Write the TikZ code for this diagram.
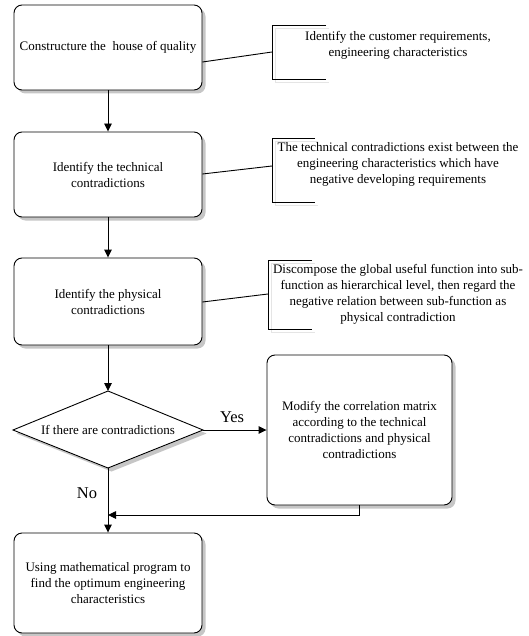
\documentclass[tikz,border=0pt]{standalone}
\usepackage{fontspec}
\setmainfont{Liberation Serif}
\usetikzlibrary{arrows.meta,shadows}
\begin{document}
\begin{tikzpicture}[x=1pt,y=-1pt,
  line width=0.9pt,
  txt/.style={font=\fontsize{13}{16}\selectfont, align=center, inner sep=0pt},
  lbl/.style={font=\fontsize{16.5}{19}\selectfont, inner sep=0pt},
  procbox/.style={draw, rounded corners=8pt, fill=white, minimum width=188pt, inner sep=0pt,
     drop shadow={shadow xshift=3.5pt, shadow yshift=-3.5pt, fill=gray!45, opacity=1},
     font=\fontsize{13}{16}\selectfont, align=center},
  arr/.style={-{Triangle[length=8pt,width=7.5pt]}},
  brk/.style={line width=0.9pt},
  brkshadow/.style={draw=gray!20, line width=0.9pt}
]
\useasboundingbox (0,0) rectangle (528,636);

% process boxes
\node[procbox, minimum height=85pt] (b1) at (108,47.5) {Constructure the\ \ house of quality};
\node[procbox, minimum height=85pt] (b2) at (108,174.5) {Identify the technical\\contradictions};
\node[procbox, minimum height=87pt] (b3) at (108,301.5) {Identify the physical\\contradictions};
\node[procbox, minimum width=185pt, minimum height=150pt] (b4) at (359.5,430) {Modify the correlation matrix\\according to the technical\\contradictions and physical\\contradictions};
\node[procbox, minimum height=100pt] (b5) at (108,583) {Using mathematical program to\\find the optimum engineering\\characteristics};

% decision diamond
\coordinate (dtop) at (108,391);
\coordinate (dright) at (203,430);
\coordinate (dbot) at (108,468);
\coordinate (dleft) at (13,430);
\fill[gray!45] ([xshift=3.5pt,yshift=-3.5pt]dtop) -- ([xshift=3.5pt,yshift=-3.5pt]dright) -- ([xshift=3.5pt,yshift=-3.5pt]dbot) -- ([xshift=3.5pt,yshift=-3.5pt]dleft) -- cycle;
\draw[fill=white] (dtop) -- (dright) -- (dbot) -- (dleft) -- cycle;
\node[txt] (d) at (108,430) {If there are contradictions};

% annotation brackets
\coordinate (a1tr) at (326,25); \coordinate (a1tl) at (272,25);
\coordinate (a1bl) at (272,79); \coordinate (a1br) at (326,79);
\coordinate (a1m) at (272,52);
\draw[brkshadow] ([xshift=3pt,yshift=-3pt]a1tr) -- ([xshift=3pt,yshift=-3pt]a1tl) -- ([xshift=3pt,yshift=-3pt]a1bl) -- ([xshift=3pt,yshift=-3pt]a1br);
\draw[brk] (a1tr) -- (a1tl) -- (a1bl) -- (a1br);
\node[txt] (a1) at (398,45) {Identify the customer requirements,\\engineering characteristics};

\coordinate (a2tr) at (315,138); \coordinate (a2tl) at (272,138);
\coordinate (a2bl) at (272,202); \coordinate (a2br) at (315,202);
\coordinate (a2m) at (272,166);
\draw[brkshadow] ([xshift=3pt,yshift=-3pt]a2tr) -- ([xshift=3pt,yshift=-3pt]a2tl) -- ([xshift=3pt,yshift=-3pt]a2bl) -- ([xshift=3pt,yshift=-3pt]a2br);
\draw[brk] (a2tr) -- (a2tl) -- (a2bl) -- (a2br);
\node[txt] (a2) at (398,164) {The technical contradictions exist between the\\engineering characteristics which have\\negative developing requirements};

\coordinate (a3tr) at (312,260); \coordinate (a3tl) at (268,260);
\coordinate (a3bl) at (268,329); \coordinate (a3br) at (312,329);
\coordinate (a3m) at (268,294);
\draw[brkshadow] ([xshift=3pt,yshift=-3pt]a3tr) -- ([xshift=3pt,yshift=-3pt]a3tl) -- ([xshift=3pt,yshift=-3pt]a3bl) -- ([xshift=3pt,yshift=-3pt]a3br);
\draw[brk] (a3tr) -- (a3tl) -- (a3bl) -- (a3br);
\node[txt] (a3) at (398,294) {Discompose the global useful function into sub-\\function as hierarchical level, then regard the\\negative relation between sub-function as\\physical contradiction};

% annotation connectors
\draw ([yshift=-14.5pt]b1.east) -- (a1m);
\draw ([yshift=0.5pt]b2.east) -- (a2m);
\draw ([yshift=-0.5pt]b3.east) -- (a3m);

% flow arrows
\draw[arr] (b1.south) -- (b2.north);
\draw[arr] (b2.south) -- (b3.north);
\draw[arr] (b3.south) -- (dtop);
\draw[arr] (dright) -- (b4.west);
\draw[arr] (dbot) -- (b5.north);
\coordinate (fb) at (108,515);
\draw[arr] (b4.south) |- (fb);

% labels
\node[lbl] (yes) at (232,417) {Yes};
\node[lbl] (no) at (87,493) {No};
\end{tikzpicture}
\end{document}
